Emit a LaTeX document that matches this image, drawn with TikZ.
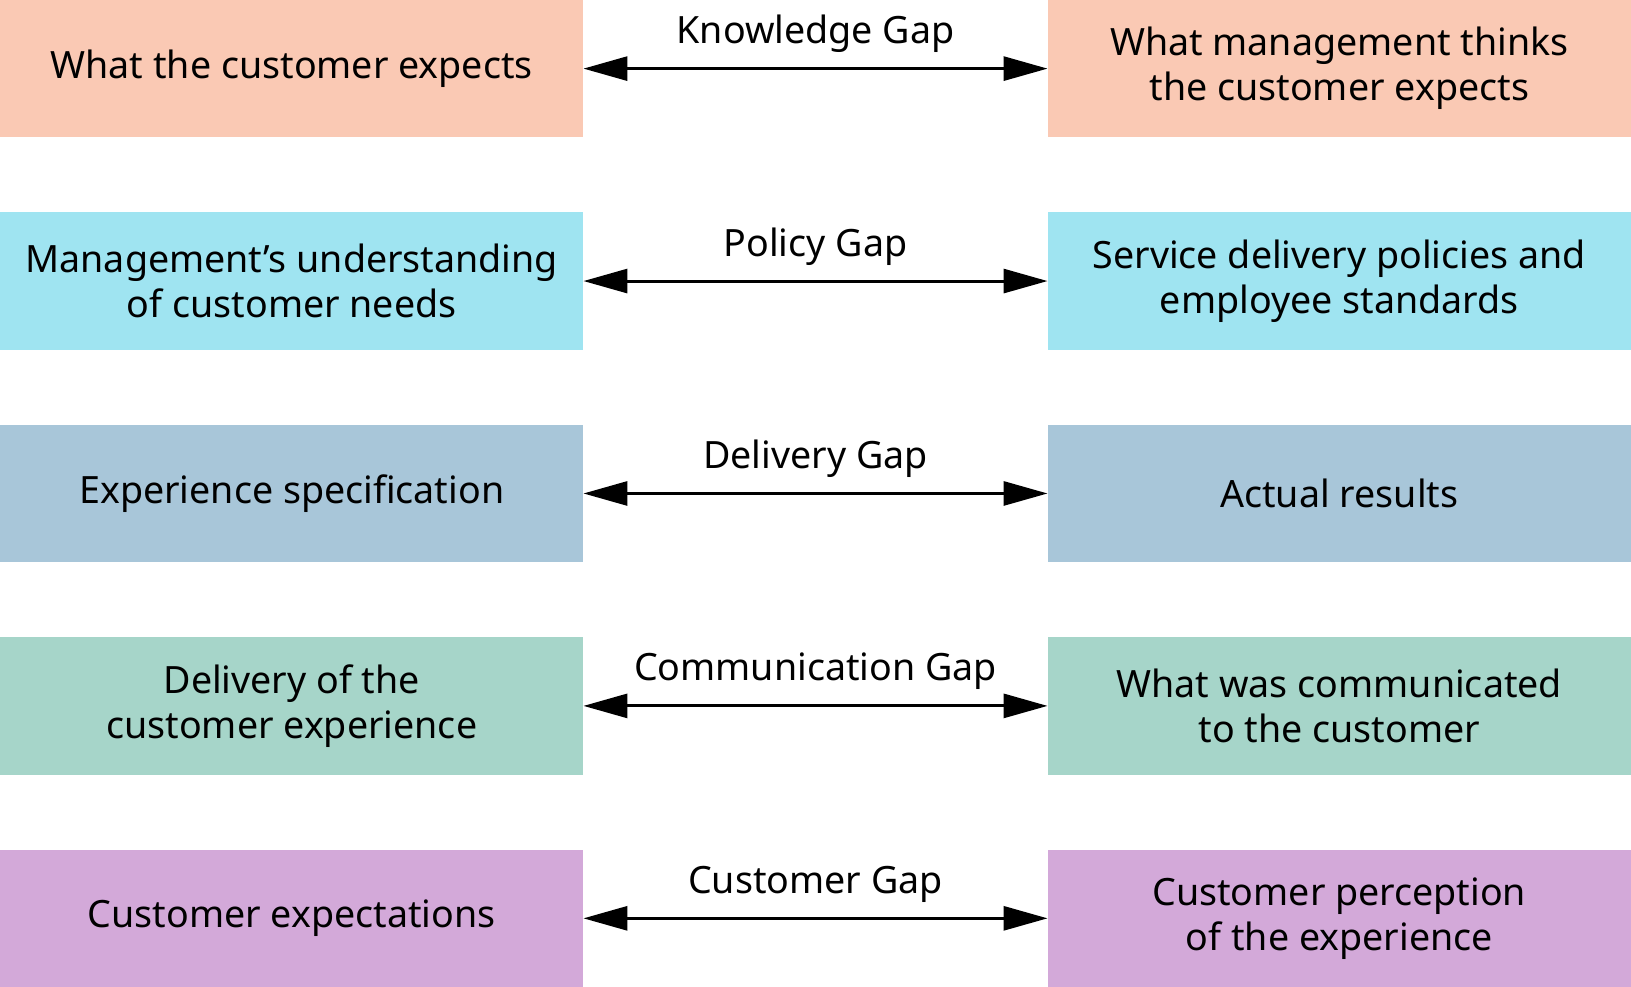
\documentclass[tikz,border=0pt]{standalone}
\usepackage{fontspec}
\setmainfont{Noto Sans}
\usetikzlibrary{positioning,arrows.meta}

\definecolor{peach}{HTML}{FAC9B4}
\definecolor{skyblue}{HTML}{9FE4F1}
\definecolor{steel}{HTML}{A8C6D9}
\definecolor{mint}{HTML}{A6D5C9}
\definecolor{lilac}{HTML}{D3A9D9}

\begin{document}
\begin{tikzpicture}[node distance=37.6pt and 232pt, every node/.style = {outer sep=0pt},
    gapbox/.style = {shape=rectangle, align=center, minimum width=291.7pt, minimum height=68.6pt, inner sep=0pt, font=\fontsize{18.8}{22.4}\selectfont},
    gaparrow/.style = {{Triangle[length=22pt,width=12pt]}-{Triangle[length=22pt,width=12pt]}, line width=1.5pt},
    gaplabel/.style = {above=8pt, inner sep=0pt, font=\fontsize{18.8}{22}\selectfont}]
     \node[gapbox, fill=peach] (know-l) {What the customer expects};
     \node[gapbox, fill=peach, right=of know-l] (know-r) {What management thinks\\the customer expects};
     \node[gapbox, fill=skyblue, below=of know-l] (pol-l) {Management’s understanding\\of customer needs};
     \node[gapbox, fill=skyblue, right=of pol-l] (pol-r) {Service delivery policies and\\employee standards};
     \node[gapbox, fill=steel, below=of pol-l] (del-l) {Experience specification};
     \node[gapbox, fill=steel, right=of del-l] (del-r) {Actual results};
     \node[gapbox, fill=mint, below=of del-l] (com-l) {Delivery of the\\customer experience};
     \node[gapbox, fill=mint, right=of com-l] (com-r) {What was communicated\\to the customer};
     \node[gapbox, fill=lilac, below=of com-l] (cus-l) {Customer expectations};
     \node[gapbox, fill=lilac, right=of cus-l] (cus-r) {Customer perception\\of the experience};

     \draw[gaparrow] (know-l) -- node[gaplabel]{Knowledge Gap} (know-r);
     \draw[gaparrow] (pol-l) -- node[gaplabel]{Policy Gap} (pol-r);
     \draw[gaparrow] (del-l) -- node[gaplabel]{Delivery Gap} (del-r);
     \draw[gaparrow] (com-l) -- node[gaplabel]{Communication Gap} (com-r);
     \draw[gaparrow] (cus-l) -- node[gaplabel]{Customer Gap} (cus-r);
\end{tikzpicture}
\end{document}
